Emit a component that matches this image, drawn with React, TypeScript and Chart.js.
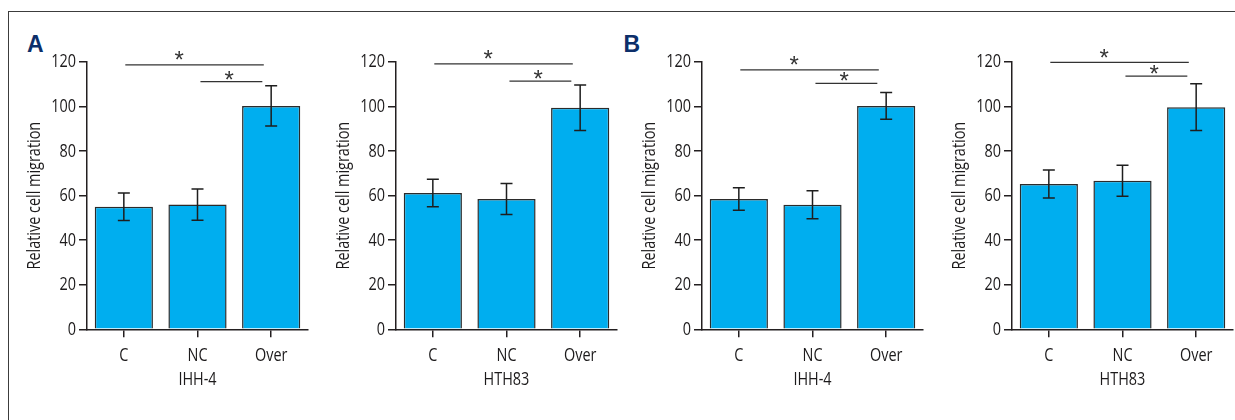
import React, { useEffect, useRef } from 'react';
import { Chart, registerables } from 'chart.js';

Chart.register(...registerables);

// ---------- data ----------
const categories = ['C', 'NC', 'Over'];
const cellLines = ['IHH-4', 'HTH83', 'IHH-4', 'HTH83'];
const panelLetters = ['A', '', 'B', ''];
const yTickValues = [0, 20, 40, 60, 80, 100, 120];
const yAxisTitle = 'Relative cell migration';

const meansA_IHH4 = [55.0, 56.0, 100.3];
const errorsA_IHH4 = [6.2, 7.0, 9.0];
const meansA_HTH83 = [61.2, 58.5, 99.5];
const errorsA_HTH83 = [6.2, 7.0, 10.2];
const meansB_IHH4 = [58.5, 55.9, 100.3];
const errorsB_IHH4 = [5.1, 6.3, 6.0];
const meansB_HTH83 = [65.2, 66.7, 99.7];
const errorsB_HTH83 = [6.3, 7.0, 10.5];

const panelMeans = [meansA_IHH4, meansA_HTH83, meansB_IHH4, meansB_HTH83];
const panelErrors = [errorsA_IHH4, errorsA_HTH83, errorsB_IHH4, errorsB_HTH83];

// significance brackets (value units on y, category index units on x)
const longBracketY = [118.7, 119.2, 116.5, 119.8];
const shortBracketY = [111.2, 111.4, 110.4, 113.7];
const longBracketSpan = [0.02, 1.9];
const shortBracketSpan = [1.04, 1.88];
const longStarIndex = 0.75;
const shortStarIndex = 1.43;
const starText = '*';

// ---------- layout / style ----------
const AXIS_X = [86.7, 396, 702.3, 1011.7];
const Y_SCALE_W = 65;
const PLOT_W = 221;
const RIGHT_PAD = 3;
const CANVAS_H = 400;
const PLOT_TOP = 62;
const PLOT_BOTTOM = 329.3;
const X_SCALE_H = 61.5;
const CONDENSE = 0.76;

const FONT_FAMILY = "'Open Sans', 'Noto Sans', sans-serif";
const TEXT_COLOR = '#1c1a1b';
const AXIS_COLOR = '#231f20';
const BAR_FILL = '#00aeef';
const BAR_BORDER = '#2b2b2b';
const LETTER_COLOR = '#0c2f6a';

// draws axis texts horizontally condensed (the figure uses a condensed face)
const condensePlugin = {
  id: 'condense',
  beforeDraw(chart: any) {
    const ctx = chart.ctx;
    if (ctx.__origFillText) return;
    const orig = ctx.fillText;
    ctx.__origFillText = orig;
    ctx.fillText = function (t: string, x: number, y: number, mw?: number) {
      const w = this.measureText(t).width * CONDENSE;
      const lim = mw !== undefined && mw !== null ? Math.min(mw, w) : w;
      return orig.call(this, t, x, y, lim);
    };
  },
  beforeDatasetsDraw(chart: any) {
    const ctx = chart.ctx;
    if (ctx.__origFillText) {
      ctx.fillText = ctx.__origFillText;
      delete ctx.__origFillText;
    }
  },
  afterDraw(chart: any) {
    const ctx = chart.ctx;
    if (ctx.__origFillText) {
      ctx.fillText = ctx.__origFillText;
      delete ctx.__origFillText;
    }
  },
};

const overlayPlugin = {
  id: 'overlay',
  afterDatasetsDraw(chart: any, _args: any, opts: any) {
    const { ctx } = chart;
    const xs = chart.scales.x;
    const ys = chart.scales.y;
    const meta = chart.getDatasetMeta(0);
    const errs: number[] = opts.errors;
    const means: number[] = opts.means;
    ctx.save();
    // error bars
    ctx.strokeStyle = '#1e1e1e';
    ctx.lineWidth = 1.5;
    meta.data.forEach((bar: any, i: number) => {
      const x = bar.x;
      const yT = ys.getPixelForValue(means[i] + errs[i]);
      const yB = ys.getPixelForValue(means[i] - errs[i]);
      const cap = 6;
      ctx.beginPath();
      ctx.moveTo(x, yT);
      ctx.lineTo(x, yB);
      ctx.moveTo(x - cap, yT);
      ctx.lineTo(x + cap, yT);
      ctx.moveTo(x - cap, yB);
      ctx.lineTo(x + cap, yB);
      ctx.stroke();
    });
    // brackets
    ctx.strokeStyle = '#333333';
    ctx.lineWidth = 1.3;
    const drawBracket = (span: number[], yVal: number, starIdx: number, gap: number) => {
      const y = ys.getPixelForValue(yVal);
      ctx.beginPath();
      ctx.moveTo(xs.getPixelForValue(span[0]), y);
      ctx.lineTo(xs.getPixelForValue(span[1]), y);
      ctx.stroke();
      ctx.font = `24px 'Liberation Sans', 'DejaVu Sans', sans-serif`;
      ctx.fillStyle = '#333333';
      ctx.textAlign = 'center';
      ctx.textBaseline = 'alphabetic';
      const m = ctx.measureText(starText);
      const centerY = y - gap;
      const baseline = centerY + (m.actualBoundingBoxAscent - m.actualBoundingBoxDescent) / 2;
      ctx.fillText(starText, xs.getPixelForValue(starIdx), baseline);
    };
    drawBracket(longBracketSpan, opts.longY, longStarIndex, 9);
    drawBracket(shortBracketSpan, opts.shortY, shortStarIndex, 6.5);
    ctx.restore();
  },
};

function Panel({ idx }: { idx: number }) {
  const ref = useRef<HTMLCanvasElement | null>(null);
  useEffect(() => {
    if (!ref.current) return;
    const font = { family: FONT_FAMILY, size: 19 };
    const chart = new Chart(ref.current, {
      type: 'bar',
      data: {
        labels: categories,
        datasets: [
          {
            data: panelMeans[idx],
            backgroundColor: BAR_FILL,
            borderColor: BAR_BORDER,
            borderWidth: 1.5,
            barPercentage: 0.79,
            categoryPercentage: 1,
          },
        ],
      },
      options: {
        animation: false,
        responsive: true,
        maintainAspectRatio: false,
        layout: {
          padding: {
            top: PLOT_TOP,
            bottom: CANVAS_H - PLOT_BOTTOM - X_SCALE_H,
            left: 0,
            right: RIGHT_PAD,
          },
        },
        plugins: {
          legend: { display: false },
          tooltip: { enabled: false },
          overlay: {
            errors: panelErrors[idx],
            means: panelMeans[idx],
            longY: longBracketY[idx],
            shortY: shortBracketY[idx],
          },
        } as any,
        scales: {
          x: {
            type: 'category',
            offset: true,
            afterFit: (s: any) => {
              s.height = X_SCALE_H;
            },
            grid: {
              offset: false,
              drawOnChartArea: false,
              drawTicks: true,
              tickLength: 8,
              color: AXIS_COLOR,
              lineWidth: 1.5,
            },
            border: { color: AXIS_COLOR, width: 1.5 },
            ticks: { font, color: TEXT_COLOR, padding: 7, maxRotation: 0 },
            title: {
              display: true,
              text: cellLines[idx],
              font,
              color: TEXT_COLOR,
              padding: { top: 0, bottom: 0 },
            },
          },
          y: {
            min: 0,
            max: 120,
            afterFit: (s: any) => {
              s.width = Y_SCALE_W;
            },
            afterBuildTicks: (s: any) => {
              s.ticks = yTickValues.map((v) => ({ value: v }));
            },
            grid: {
              drawOnChartArea: false,
              drawTicks: true,
              tickLength: 8,
              color: AXIS_COLOR,
              lineWidth: 1.5,
            },
            border: { color: AXIS_COLOR, width: 1.5 },
            ticks: { font, color: TEXT_COLOR, padding: 3 },
            title: {
              display: true,
              text: yAxisTitle,
              font,
              color: TEXT_COLOR,
              padding: { top: 1, bottom: 0 },
            },
          },
        },
      },
      plugins: [condensePlugin, overlayPlugin],
    });
    return () => chart.destroy();
  }, [idx]);

  const left = AXIS_X[idx] - Y_SCALE_W;
  return (
    <div
      style={{
        position: 'absolute',
        left,
        top: 0,
        width: Y_SCALE_W + PLOT_W + RIGHT_PAD,
        height: CANVAS_H,
      }}
    >
      <canvas ref={ref} />
    </div>
  );
}

export default function App() {
  const letterStyle = (left: number): React.CSSProperties => ({
    position: 'absolute',
    left,
    top: 33.3,
    fontFamily: "'Liberation Sans', Arial, sans-serif",
    fontWeight: 'bold',
    fontSize: 23,
    lineHeight: '23px',
    color: LETTER_COLOR,
  });
  const letterX = [27, 0, 623.5, 0];
  return (
    <div
      style={{
        position: 'absolute',
        left: 0,
        top: 0,
        width: 1235,
        height: 420,
        background: '#ffffff',
        overflow: 'hidden',
      }}
    >
      <div
        style={{
          position: 'absolute',
          left: 7.5,
          top: 10.5,
          width: 1235,
          height: 420,
          borderTop: '1.5px solid #3c3c3c',
          borderLeft: '1.5px solid #3c3c3c',
        }}
      />
      {panelLetters.map((l, i) =>
        l ? (
          <div key={'l' + i} style={letterStyle(letterX[i])}>
            {l}
          </div>
        ) : null
      )}
      {[0, 1, 2, 3].map((i) => (
        <Panel key={i} idx={i} />
      ))}
    </div>
  );
}
